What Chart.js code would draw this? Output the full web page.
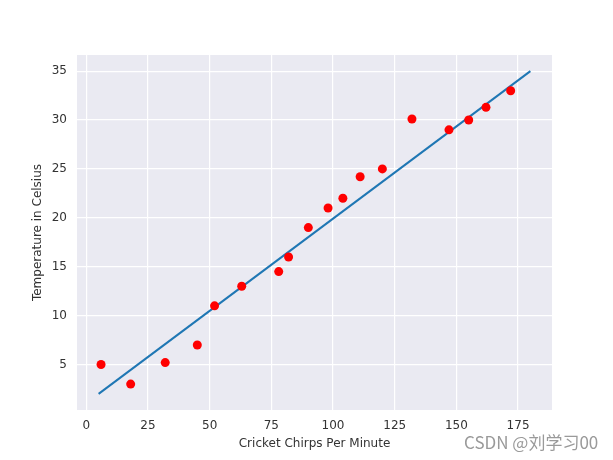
<!DOCTYPE html>
<html>
<head>
<meta charset="utf-8">
<script src="https://cdn.jsdelivr.net/npm/chart.js@4/dist/chart.umd.min.js"></script>
<style>
  body { margin: 0; background: #fff; }
  #wrap { position: relative; width: 613px; height: 460px; }
  #mark { position: absolute; left: 464px; top: 429px; font: 17px "Noto Sans CJK SC", "Noto Sans", sans-serif; color: #9a9a9a; white-space: nowrap; }
</style>
</head>
<body>
<div id="wrap">
  <canvas id="canvas" width="613" height="460"></canvas>
  <div id="mark">CSDN @刘学习00</div>
</div>
<script>
// observed data
var chirps = [6, 18, 32, 45, 52, 63, 78, 82, 90, 98, 104, 111, 120, 132, 147, 155, 162, 172];
var temps  = [5, 3, 5.2, 7, 11, 13, 14.5, 16, 19, 21, 22, 24.2, 25, 30.1, 29, 30, 31.3, 33];
// fitted line endpoints
var fitX = [5, 180];
var fitY = [2, 35];
var xTicks = [0, 25, 50, 75, 100, 125, 150, 175];
var yTicks = [5, 10, 15, 20, 25, 30, 35];

var pts = [];
for (i = 0; i < chirps.length; i++) pts.push({x: chirps[i], y: temps[i]});
var fit = [];
for (i = 0; i < fitX.length; i++) fit.push({x: fitX[i], y: fitY[i]});

var bgPlugin = {
  id: "plotBg",
  beforeDraw: function (chart) {
    var a = chart.chartArea, ctx = chart.ctx;
    ctx.save();
    ctx.fillStyle = "#EAEAF2";
    ctx.fillRect(a.left, a.top, a.right - a.left, a.bottom - a.top);
    ctx.restore();
  }
};

var tickFont = { family: "DejaVu Sans", size: 12 };

new Chart(document.getElementById("canvas"), {
  type: "scatter",
  data: {
    datasets: [
      { data: pts, backgroundColor: "#ff0000", borderColor: "#ff0000", pointRadius: 4.5, pointBorderWidth: 0, order: 0 },
      { type: "line", data: fit, borderColor: "#1f77b4", borderWidth: 2, pointRadius: 0, fill: false, order: 1 }
    ]
  },
  options: {
    responsive: false,
    animation: false,
    layout: { padding: { left: 0, top: 55, right: 61, bottom: 0 } },
    plugins: { legend: { display: false }, tooltip: { enabled: false } },
    scales: {
      x: {
        type: "linear", min: -3.75, max: 188.75,
        afterBuildTicks: function (s) { s.ticks = xTicks.map(function (v) { return {value: v}; }); },
        afterFit: function (s) { s.height = 50; },
        border: { display: false },
        grid: { color: "#ffffff", lineWidth: 1.2, drawTicks: false },
        ticks: { padding: 9, color: "#333333", font: tickFont, maxRotation: 0 },
        title: { display: true, text: "Cricket Chirps Per Minute", color: "#333333", font: tickFont, padding: { top: 0, bottom: 9 } }
      },
      y: {
        type: "linear", min: 0.35, max: 36.65,
        afterBuildTicks: function (s) { s.ticks = yTicks.map(function (v) { return {value: v}; }); },
        afterFit: function (s) { s.width = 77; },
        border: { display: false },
        grid: { color: "#ffffff", lineWidth: 1.2, drawTicks: false },
        ticks: { padding: 10, color: "#333333", font: tickFont },
        title: { display: true, text: "Temperature in Celsius", color: "#333333", font: tickFont, padding: { top: 31, bottom: 0 } }
      }
    }
  },
  plugins: [bgPlugin]
});
</script>
</body>
</html>
